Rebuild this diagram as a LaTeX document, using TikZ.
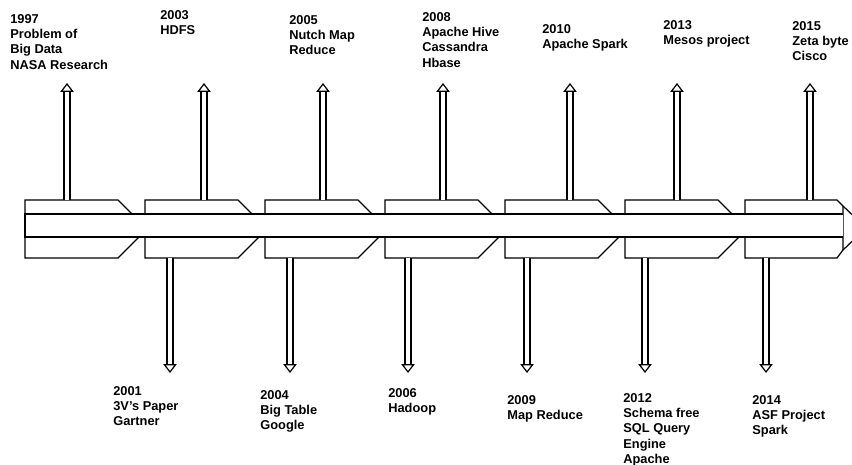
\documentclass[tikz,border=0pt]{standalone}
\usepackage{fontspec}
\setmainfont{Liberation Sans}
\usetikzlibrary{arrows.meta}

\tikzset{
  seg/.style={draw, line width=0.7pt, fill=white, line join=miter},
  stem/.style={double, double distance=2.6pt, line width=0.7pt,
    -{Triangle[open, length=5pt, width=7.5pt, line width=0.7pt]}},
  lbl/.style={anchor=north west, inner sep=0pt, align=left,
    font=\bfseries\fontsize{7.3}{8.7}\selectfont},
}

\begin{document}
\begin{tikzpicture}[x=0.02cm, y=-0.02cm]
    \useasboundingbox (0,0) rectangle (852,465);
    \clip (0,0) rectangle (852,465);

    % 分段块
    \foreach \i in {0,...,5} {
        \pgfmathsetmacro{\L}{25+120*\i}
        \draw[seg] (\L,200) -- ++(93,0) -- ++(29,29) -- ++(-29,29) -- ++(-93,0) -- cycle;
    }
    % 最后一块
    \draw[seg] (745,200) -- (837,200) -- (843,206) -- (843,250) -- (837,258) -- (745,258) -- cycle;

    % 中间长条
    \draw[seg] (843,214) -- (25,214) -- (25,237) -- (843,237);
    \draw[line width=0.7pt] (843,206) -- (866,228) -- (843,250);

    % 向上的箭头
    \foreach \x/\n in {67/a, 204/b, 323/c, 443/d, 570/e, 677/f, 810/g} {
        \coordinate (up\n) at (\x,200);
        \coordinate (uptip\n) at (\x,83);
        \draw[stem] (up\n) -- (uptip\n);
    }
    % 向下的箭头
    \foreach \x/\n in {170/a, 290/b, 408/c, 527/d, 645/e, 766/f} {
        \coordinate (dn\n) at (\x,258);
        \coordinate (dntip\n) at (\x,373);
        \draw[stem] (dn\n) -- (dntip\n);
    }

    % 上方说明
    \node[lbl] (y1997) at (10,14) {1997\\Problem of\\Big Data\\NASA Research};
    \node[lbl] (y2003) at (160,10) {2003\\HDFS};
    \node[lbl] (y2005) at (289,15) {2005\\Nutch Map\\Reduce};
    \node[lbl] (y2008) at (422,12) {2008\\Apache Hive\\Cassandra\\Hbase};
    \node[lbl] (y2010) at (542,24) {2010\\Apache Spark};
    \node[lbl] (y2013) at (663,20) {2013\\Mesos project};
    \node[lbl] (y2015) at (792,21) {2015\\Zeta byte\\Cisco};

    % 下方说明
    \node[lbl] (y2001) at (113,386) {2001\\3V's Paper\\Gartner};
    \node[lbl] (y2004) at (260,390) {2004\\Big Table\\Google};
    \node[lbl] (y2006) at (388,388) {2006\\Hadoop};
    \node[lbl] (y2009) at (507,395) {2009\\Map Reduce};
    \node[lbl] (y2012) at (623,393) {2012\\Schema free\\SQL Query\\Engine\\Apache};
    \node[lbl] (y2014) at (752,395) {2014\\ASF Project\\Spark};
\end{tikzpicture}
\end{document}
